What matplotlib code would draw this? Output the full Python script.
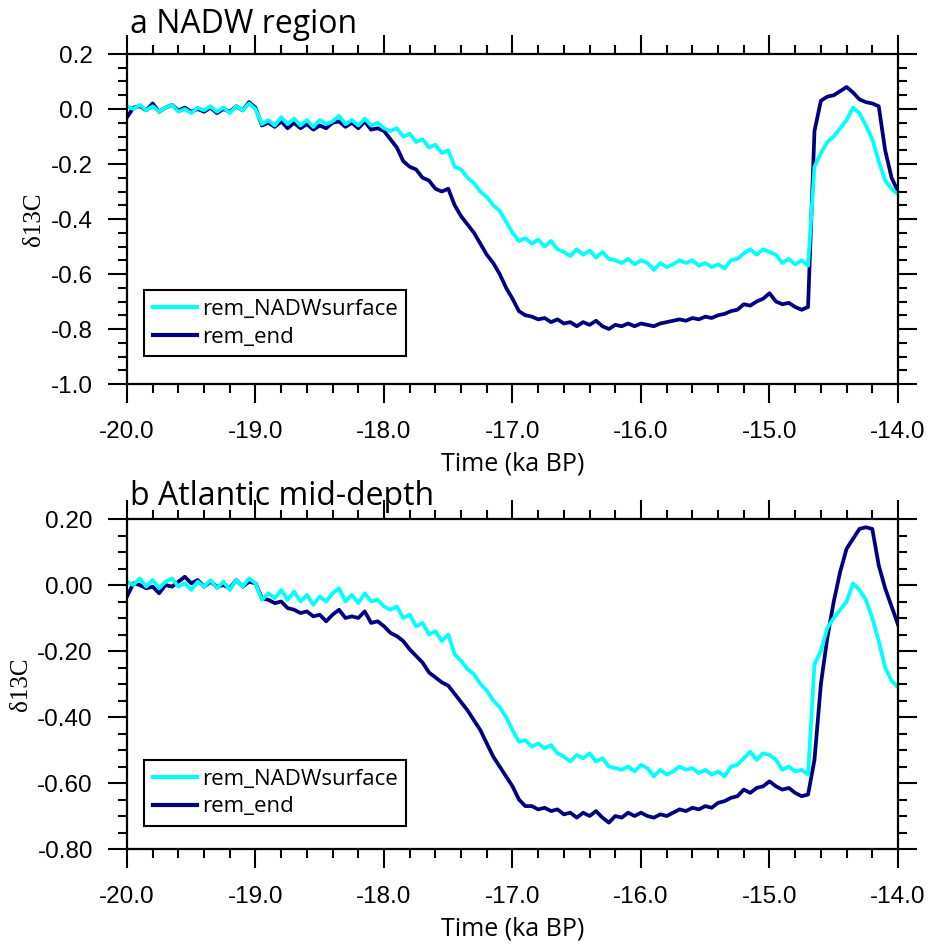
import numpy as np
import matplotlib
matplotlib.use("Agg")
import matplotlib.pyplot as plt
from matplotlib.ticker import MultipleLocator, FormatStrFormatter

plt.rcParams['axes.unicode_minus'] = False

# time axis (ka BP), 0.05 ka sampling
time = np.linspace(-20.0, -14.0, 121)

# ---- panel a: NADW region ----
a_surface = [
    0.01, 0.00, 0.015, -0.005, 0.01, -0.01, 0.005, 0.015, -0.01, 0.00,
    -0.015, 0.005, -0.005, 0.01, -0.01, 0.005, -0.015, 0.01, -0.005, 0.02,
    0.00,
    -0.055, -0.04, -0.06, -0.03, -0.055, -0.035, -0.06, -0.04, -0.065, -0.04,
    -0.055, -0.045, -0.025, -0.055, -0.04, -0.06, -0.035, -0.06, -0.05, -0.07,
    -0.08, -0.07, -0.10, -0.09, -0.12, -0.11, -0.14, -0.13, -0.16, -0.15,
    -0.21, -0.22, -0.25, -0.27, -0.30, -0.32, -0.35, -0.37, -0.41, -0.45,
    -0.48, -0.47, -0.49, -0.475, -0.50, -0.48, -0.51, -0.52, -0.535, -0.51,
    -0.53, -0.515, -0.54, -0.52, -0.545, -0.55, -0.56, -0.545, -0.565, -0.55,
    -0.56, -0.585, -0.56, -0.575, -0.565, -0.55, -0.56, -0.55, -0.57, -0.56,
    -0.575, -0.565, -0.58, -0.55, -0.545, -0.525, -0.51, -0.53, -0.51, -0.52,
    -0.53, -0.56, -0.545, -0.565, -0.55, -0.57,
    -0.21, -0.16, -0.12, -0.10, -0.07, -0.04, 0.005, -0.015, -0.06, -0.11,
    -0.19, -0.26, -0.29, -0.31,
]
a_end = [
    -0.03, 0.005, 0.01, -0.005, 0.02, -0.01, 0.005, 0.015, -0.005, 0.005,
    -0.01, 0.00, -0.01, 0.005, -0.015, 0.00, -0.01, 0.01, -0.005, 0.025,
    0.005,
    -0.06, -0.05, -0.065, -0.045, -0.07, -0.05, -0.07, -0.055, -0.075, -0.06,
    -0.07, -0.05, -0.045, -0.065, -0.05, -0.07, -0.045, -0.075, -0.07, -0.08,
    -0.11, -0.14, -0.19, -0.21, -0.22, -0.25, -0.26, -0.29, -0.30, -0.29,
    -0.35, -0.39, -0.42, -0.45, -0.49, -0.53, -0.56, -0.60, -0.65, -0.69,
    -0.735, -0.75, -0.755, -0.765, -0.76, -0.775, -0.765, -0.78, -0.775, -0.79,
    -0.775, -0.785, -0.77, -0.79, -0.80, -0.785, -0.79, -0.78, -0.79, -0.78,
    -0.785, -0.79, -0.78, -0.775, -0.77, -0.765, -0.77, -0.76, -0.765, -0.755,
    -0.76, -0.75, -0.745, -0.735, -0.73, -0.71, -0.715, -0.70, -0.69, -0.67,
    -0.70, -0.71, -0.705, -0.72, -0.73, -0.72,
    -0.08, 0.03, 0.045, 0.05, 0.065, 0.08, 0.06, 0.035, 0.025, 0.02,
    0.01, -0.15, -0.25, -0.30,
]

# ---- panel b: Atlantic mid-depth ----
b_surface = [
    0.01, 0.00, 0.02, -0.005, 0.015, -0.01, 0.01, 0.02, -0.005, 0.005,
    -0.015, 0.01, -0.005, 0.015, -0.01, 0.01, -0.015, 0.015, -0.005, 0.02,
    0.005,
    -0.045, -0.025, -0.04, -0.015, -0.045, -0.02, -0.05, -0.03, -0.06, -0.035,
    -0.05, -0.025, -0.01, -0.05, -0.03, -0.055, -0.025, -0.05, -0.045, -0.065,
    -0.075, -0.065, -0.10, -0.09, -0.125, -0.115, -0.15, -0.14, -0.17, -0.15,
    -0.21, -0.23, -0.255, -0.27, -0.30, -0.32, -0.35, -0.37, -0.40, -0.44,
    -0.475, -0.47, -0.49, -0.48, -0.495, -0.485, -0.51, -0.52, -0.535, -0.515,
    -0.525, -0.51, -0.535, -0.525, -0.55, -0.555, -0.56, -0.55, -0.565, -0.545,
    -0.555, -0.58, -0.56, -0.575, -0.565, -0.55, -0.56, -0.555, -0.57, -0.56,
    -0.575, -0.565, -0.58, -0.55, -0.545, -0.525, -0.505, -0.53, -0.51, -0.515,
    -0.53, -0.56, -0.55, -0.565, -0.56, -0.575,
    -0.24, -0.20, -0.13, -0.10, -0.075, -0.05, 0.005, -0.015, -0.045, -0.10,
    -0.17, -0.25, -0.29, -0.31,
]
b_end = [
    -0.035, 0.005, 0.00, -0.01, -0.005, -0.025, 0.00, -0.005, 0.01, 0.025,
    0.005, 0.015, -0.005, 0.01, -0.005, 0.00, -0.01, 0.015, -0.005, 0.01,
    0.005,
    -0.04, -0.045, -0.055, -0.05, -0.07, -0.075, -0.085, -0.08, -0.095, -0.09,
    -0.11, -0.09, -0.075, -0.10, -0.095, -0.10, -0.08, -0.115, -0.11, -0.125,
    -0.145, -0.155, -0.17, -0.195, -0.215, -0.235, -0.265, -0.28, -0.295, -0.305,
    -0.33, -0.355, -0.38, -0.41, -0.44, -0.48, -0.52, -0.55, -0.58, -0.61,
    -0.65, -0.67, -0.67, -0.68, -0.675, -0.685, -0.68, -0.695, -0.69, -0.705,
    -0.69, -0.70, -0.685, -0.705, -0.72, -0.70, -0.705, -0.69, -0.70, -0.69,
    -0.70, -0.705, -0.695, -0.70, -0.69, -0.68, -0.685, -0.675, -0.68, -0.67,
    -0.675, -0.66, -0.655, -0.645, -0.64, -0.62, -0.63, -0.615, -0.61, -0.595,
    -0.61, -0.62, -0.615, -0.63, -0.64, -0.635,
    -0.53, -0.30, -0.16, -0.05, 0.04, 0.11, 0.14, 0.17, 0.175, 0.17,
    0.06, -0.01, -0.065, -0.12,
]

labels = ["rem_NADWsurface", "rem_end"]
colors = ["#00FFFF", "#000080"]
titles = ["a NADW region", "b Atlantic mid-depth"]

W, H = 933, 947
fig = plt.figure(figsize=(W / 100, H / 100), dpi=100)

panels = [
    dict(rect=[127 / W, 1 - 384 / H, 771 / W, 330 / H], s=a_surface, e=a_end,
         ylim=(-1.0, 0.2), fmt='%.1f', leg_top=0.285, title_y=0.064),
    dict(rect=[127 / W, 1 - 849 / H, 771 / W, 330 / H], s=b_surface, e=b_end,
         ylim=(-0.8, 0.2), fmt='%.2f', leg_top=0.27, title_y=0.042),
]

sans = ['Open Sans', 'DejaVu Sans']
for p, title in zip(panels, titles):
    ax = fig.add_axes(p['rect'])
    le, = ax.plot(time, p['e'], color=colors[1], lw=2.7, solid_joinstyle='round')
    ls, = ax.plot(time, p['s'], color=colors[0], lw=2.7, solid_joinstyle='round')
    ax.set_xlim(-20, -14)
    ax.set_ylim(*p['ylim'])
    ax.xaxis.set_major_locator(MultipleLocator(1.0))
    ax.xaxis.set_minor_locator(MultipleLocator(0.2))
    ax.yaxis.set_major_locator(MultipleLocator(0.2))
    ax.yaxis.set_minor_locator(MultipleLocator(0.05))
    ax.xaxis.set_major_formatter(FormatStrFormatter('%.1f'))
    ax.yaxis.set_major_formatter(FormatStrFormatter(p['fmt']))
    ax.tick_params(which='both', direction='out', top=True, right=True,
                   width=1.5, color='black')
    ax.tick_params(which='major', length=13.5, labelsize=17.5)
    ax.tick_params(axis='x', which='major', pad=13)
    ax.tick_params(axis='y', which='major', pad=11)
    ax.tick_params(which='minor', length=6.5)
    for lab in ax.get_xticklabels() + ax.get_yticklabels():
        lab.set_family(['Liberation Sans', 'DejaVu Sans'])
    for sp in ax.spines.values():
        sp.set_linewidth(1.6)
    ax.set_xlabel('Time (ka BP)', fontsize=18, family=sans, labelpad=6)
    ax.set_ylabel('δ13C', fontsize=18, family=['Liberation Serif', 'DejaVu Serif'],
                  labelpad=4)
    ax.text(0.004, 1 + p['title_y'], title, transform=ax.transAxes,
            fontsize=23, family=sans, ha='left', va='baseline')
    leg = ax.legend([ls, le], labels, loc='upper left',
                    bbox_to_anchor=(0.022, p['leg_top']),
                    prop={'family': sans, 'size': 16}, fancybox=False,
                    edgecolor='black', framealpha=1, handlelength=2.0,
                    handletextpad=0.2, labelspacing=0.3, borderpad=0.4,
                    borderaxespad=0)
    leg.get_frame().set_linewidth(1.5)
    for h in leg.get_lines():
        h.set_linewidth(3)

fig.savefig('out.png', dpi=100)
